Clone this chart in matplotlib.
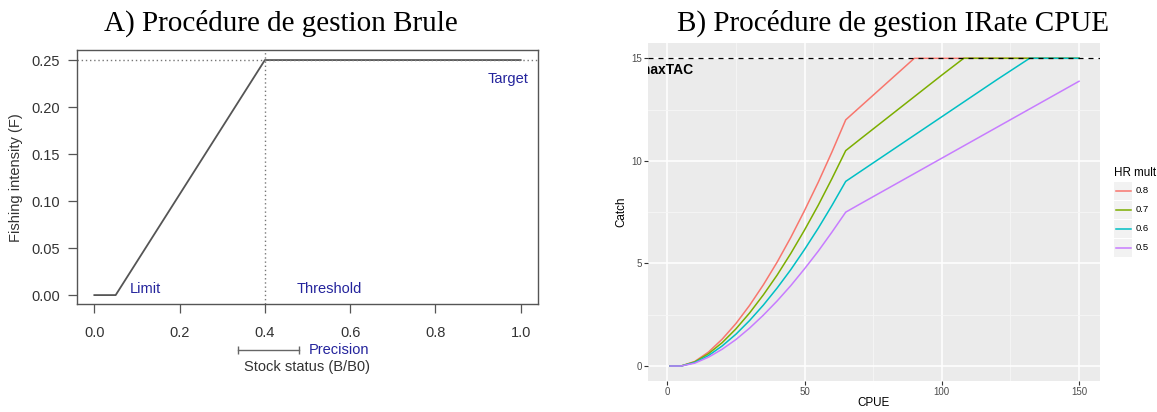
import matplotlib
matplotlib.use("Agg")
import matplotlib.pyplot as plt
from matplotlib.patches import Rectangle

plt.rcParams['font.family'] = ['Liberation Sans', 'DejaVu Sans']

# --- A) Brule harvest control rule ---
brule_status = [0.0, 0.05, 0.4, 1.0]
brule_f = [0.0, 0.0, 0.25, 0.25]
f_target = 0.25
b_threshold = 0.4
precision_lo, precision_hi = 0.338, 0.479

# --- B) IRate CPUE rule ---
cpue = [1, 5, 10, 15, 20, 25, 30, 35, 40, 45, 50, 55, 60, 65, 70, 80, 90, 100, 108, 120, 132, 140, 150]
catch_08 = [0, 0, 0.22, 0.68, 1.31, 2.07, 2.96, 3.96, 5.06, 6.27, 7.58, 8.96, 10.44, 12.0,
            12.6, 13.8, 15.0, 15.0, 15.0, 15.0, 15.0, 15.0, 15.0]
catch_07 = [0, 0, 0.20, 0.60, 1.14, 1.81, 2.59, 3.47, 4.43, 5.49, 6.63, 7.84, 9.14, 10.5,
            11.03, 12.08, 13.13, 14.18, 15.0, 15.0, 15.0, 15.0, 15.0]
catch_06 = [0, 0, 0.17, 0.51, 0.98, 1.55, 2.22, 2.97, 3.80, 4.70, 5.68, 6.72, 7.83, 9.0,
            9.45, 10.35, 11.25, 12.15, 12.87, 13.95, 15.0, 15.0, 15.0]
catch_05 = [0, 0, 0.14, 0.43, 0.82, 1.29, 1.85, 2.48, 3.17, 3.92, 4.74, 5.60, 6.53, 7.5,
            7.88, 8.63, 9.38, 10.13, 10.73, 11.63, 12.53, 13.13, 13.88]
hr_labels = ['0.8', '0.7', '0.6', '0.5']
hr_colors = ['#F8766D', '#7CAE00', '#00BFC4', '#C77CFF']
max_tac = 15

W, H = 1157, 412
fig = plt.figure(figsize=(W / 100, H / 100), dpi=100)

def px_axes(l, t, r, b):
    return fig.add_axes([l / W, 1 - b / H, (r - l) / W, (b - t) / H])

# ---------------- panel A ----------------
ax1 = px_axes(77.3, 50, 537.7, 304.3)
grey = '#333333'
blue = '#24249C'
ax1.plot(brule_status, brule_f, color='#555555', lw=1.3)
ax1.axhline(f_target, color='#777777', lw=1, ls=(0, (1, 2)))
ax1.axvline(b_threshold, color='#777777', lw=1, ls=(0, (1, 2)))
ax1.set_xlim(-0.04, 1.04)
ax1.set_ylim(-0.0098, 0.2607)
ax1.set_xticks([0, 0.2, 0.4, 0.6, 0.8, 1.0])
ax1.set_xticklabels(['0.0', '0.2', '0.4', '0.6', '0.8', '1.0'])
ax1.set_yticks([0, 0.05, 0.10, 0.15, 0.20, 0.25])
ax1.set_yticklabels(['0.00', '0.05', '0.10', '0.15', '0.20', '0.25'])
ax1.tick_params(axis='both', direction='out', length=6.5, width=0.9, color='#555555',
                labelcolor=grey, labelsize=10.5)
ax1.tick_params(axis='x', pad=9.3)
ax1.tick_params(axis='y', pad=6.0)
for s in ax1.spines.values():
    s.set_color('#555555')
    s.set_linewidth(1.0)

ax1.text(0.082, 0.006, 'Limit', color=blue, fontsize=10.5, va='center', ha='left')
ax1.text(0.474, 0.006, 'Threshold', color=blue, fontsize=10.5, va='center', ha='left')
ax1.text(1.018, 0.23, 'Target', color=blue, fontsize=10.5, va='center', ha='right')

trans = ax1.get_xaxis_transform()
py = (304.3 - 350) / 254.3
ax1.plot([precision_lo, precision_hi], [py, py], color='#666666', lw=1,
         marker='|', ms=6, mew=1, transform=trans, clip_on=False)
ax1.text(0.504, py, 'Precision', color=blue, fontsize=10.5, va='center', ha='left',
         transform=trans)
ax1.text(0.5, (304.3 - 367.3) / 254.3, 'Stock status (B/B0)', color=grey, fontsize=10.5,
         va='center', ha='center', transform=ax1.transAxes)
ax1.text((16.3 - 77.3) / 460.4, 0.5, 'Fishing intensity (F)', color=grey, fontsize=10.5,
         rotation=90, va='center', ha='center', transform=ax1.transAxes)

# ---------------- panel B ----------------
ax2 = px_axes(648.3, 43.3, 1099.5, 381)
ax2.set_facecolor('#EBEBEB')
for s in ax2.spines.values():
    s.set_visible(False)
ax2.set_xlim(-6.92, 157.45)
ax2.set_ylim(-0.73, 15.73)
ax2.set_xticks([0, 50, 100, 150])
ax2.set_yticks([0, 5, 10, 15])
ax2.set_xticks([25, 75, 125], minor=True)
ax2.set_yticks([2.5, 7.5, 12.5], minor=True)
ax2.grid(which='major', color='white', lw=1.1)
ax2.grid(which='minor', color='#F6F6F6', lw=0.6)
ax2.set_axisbelow(True)
ax2.tick_params(which='major', length=3.1, width=0.8, color='#333333',
                labelcolor='#4D4D4D', labelsize=7, pad=1.2)
ax2.tick_params(which='minor', length=0)

for ys, c in zip([catch_08, catch_07, catch_06, catch_05], hr_colors):
    ax2.plot(cpue, ys, color=c, lw=1.1)
ax2.axhline(max_tac, color='black', lw=0.9, dashes=(4, 4))
ax2.text(9.25, 14.43, 'maxTAC', fontsize=10, fontweight='bold', ha='right',
         va='center', clip_on=True)

ax2.text(0.5, (381 - 403) / 337.7, 'CPUE', fontsize=8.4, ha='center', va='center',
         transform=ax2.transAxes)
ax2.text((621.8 - 648.3) / 451.2, 0.5, 'Catch', fontsize=8.4, rotation=90, ha='center',
         va='center', transform=ax2.transAxes)

# legend (ggplot style keys), laid out in pixel units
lax = px_axes(1110, 160, 1157, 260)
lax.set_xlim(1110, 1157)
lax.set_ylim(260, 160)
lax.axis('off')
lax.text(1114, 173, 'HR mult', fontsize=8.4, ha='left', va='center', clip_on=False)
for i, (lab, c) in enumerate(zip(hr_labels, hr_colors)):
    yc = 190.7 + i * 19.0
    lax.add_patch(Rectangle((1114, yc - 9.0), 18, 18, fc='#F2F2F2', ec='none'))
    lax.plot([1115.5, 1130.5], [yc, yc], color=c, lw=1.1)
    lax.text(1135.7, yc, lab, fontsize=6.8, ha='left', va='center')

# ---------------- titles ----------------
fig.text(281 / W, 1 - 30.7 / H, 'A) Procédure de gestion Brule', family='Liberation Serif',
         fontsize=21, ha='center', va='baseline')
fig.text(893 / W, 1 - 30.7 / H, 'B) Procédure de gestion IRate CPUE', family='Liberation Serif',
         fontsize=21, ha='center', va='baseline')

fig.savefig('out.png', dpi=100)
